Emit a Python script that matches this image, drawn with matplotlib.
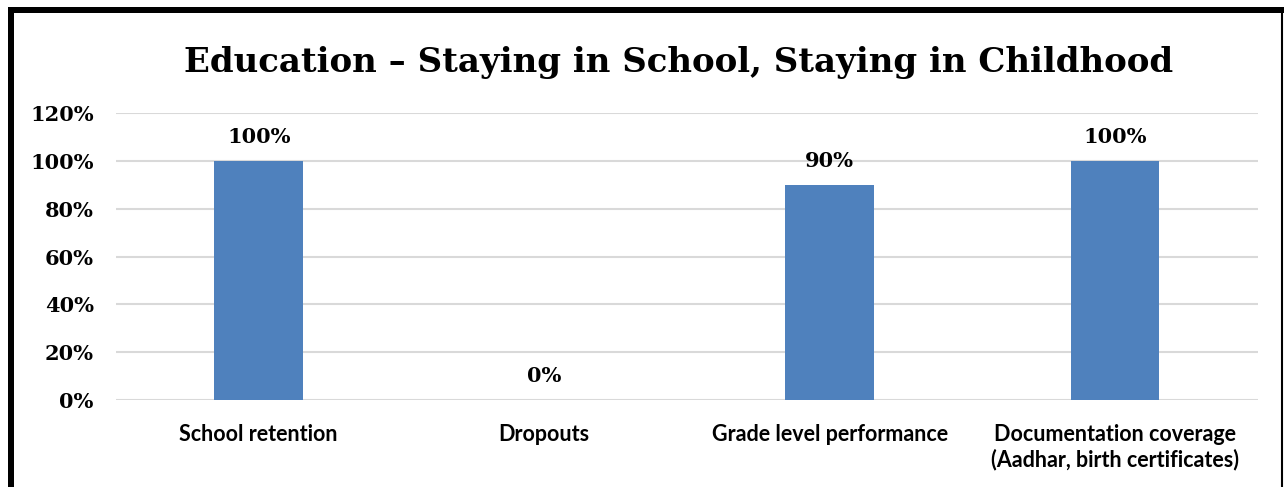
import matplotlib
matplotlib.use("Agg")
import numpy as np
import matplotlib.pyplot as plt
from matplotlib.patches import Rectangle

# chart data
categories = ["School retention", "Dropouts", "Grade level performance",
              "Documentation coverage\n(Aadhar, birth certificates)"]
values = [100, 0, 90, 100]
yticks = [0, 20, 40, 60, 80, 100, 120]

bar_color = "#4F81BD"
serif = ["DejaVu Serif"]
sans = ["Lato", "DejaVu Sans"]

fig = plt.figure(figsize=(12.86, 4.87), dpi=100)
ax = fig.add_axes([0.0902, 0.1786, 0.8878, 0.5894])

x = np.arange(len(categories))
ax.bar(x, values, width=0.31, color=bar_color, zorder=3)

for xi, v in zip(x, values):
    ax.annotate(f"{v}%", (xi, v), xytext=(0, 10), textcoords="offset points",
                ha="center", va="bottom", fontsize=15, fontweight="bold",
                family=serif)

ax.set_xlim(-0.5, len(categories) - 0.5)
ax.set_ylim(0, 120)
ax.set_yticks(yticks)
ax.set_yticklabels([f"{t}%" for t in yticks], fontsize=15, fontweight="bold",
                   family=serif)
ax.set_xticks(x)
ax.set_xticklabels(categories, fontsize=15.5, fontweight="bold", family=sans,
                   linespacing=1.2)
ax.tick_params(axis="both", length=0)
ax.tick_params(axis="x", pad=17)
ax.tick_params(axis="y", pad=16)
ax.grid(axis="y", color="#D9D9D9", lw=1.5, zorder=0)
for s in ax.spines.values():
    s.set_visible(False)

fig.text(0.528, 0.872, "Education \u2013 Staying in School, Staying in Childhood",
         ha="center", va="center", fontsize=24.5, fontweight="bold", family=serif)

# frame around chart (thick on left and top, cut off at bottom)
fig.patches.append(Rectangle((11 / 1286, -0.05), 1271 / 1286, 1.05 - 10 / 487,
                             transform=fig.transFigure, fill=False,
                             edgecolor="black", lw=1.5))
fig.patches.append(Rectangle((8 / 1286, -0.05), 6 / 1286, 1.05 - 7 / 487,
                             transform=fig.transFigure, color="black", lw=0))
fig.patches.append(Rectangle((8 / 1286, 1 - 13 / 487), 1276 / 1286, 6 / 487,
                             transform=fig.transFigure, color="black", lw=0))

fig.savefig("out.png", dpi=100)
